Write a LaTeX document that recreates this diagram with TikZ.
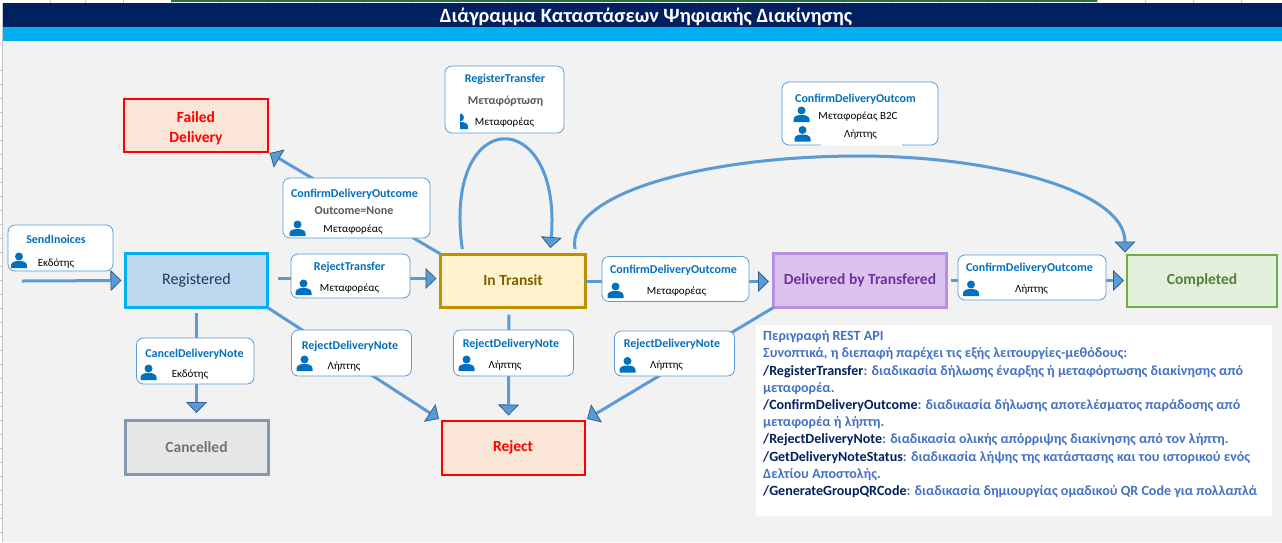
\documentclass[tikz,border=0pt]{standalone}
\usepackage{fontspec}
\setmainfont{Carlito}
\usepackage{xcolor}
\usetikzlibrary{arrows.meta,positioning}
\definecolor{pagegray}{HTML}{F2F2F2}
\definecolor{gridgray}{HTML}{C6C6C6}
\definecolor{sheetgreen}{HTML}{217346}
\definecolor{titlenavy}{HTML}{002060}
\definecolor{titlecyan}{HTML}{00B0F0}
\definecolor{flowblue}{HTML}{5B9BD5}
\definecolor{tipedge}{HTML}{2F5F8A}
\definecolor{callblue}{HTML}{0070C0}
\definecolor{notegray}{HTML}{595959}
\definecolor{infoblue}{HTML}{4472C4}
\definecolor{failfill}{HTML}{FBE5D6}
\definecolor{regfill}{HTML}{BDD7EE}
\definecolor{regtext}{HTML}{1F3864}
\definecolor{transitline}{HTML}{BF9000}
\definecolor{transitfill}{HTML}{FFF2CC}
\definecolor{transittext}{HTML}{7F6000}
\definecolor{delivline}{HTML}{B98FE0}
\definecolor{delivfill}{HTML}{DCC3EE}
\definecolor{delivtext}{HTML}{7030A0}
\definecolor{doneline}{HTML}{70AD47}
\definecolor{donefill}{HTML}{E2EFDA}
\definecolor{donetext}{HTML}{548235}
\definecolor{cancelline}{HTML}{8497B0}
\definecolor{cancelfill}{HTML}{E7E6E6}
\definecolor{canceltext}{HTML}{767171}

\begin{document}
\begin{tikzpicture}[
    x=1pt, y=-1pt,
    state_box/.style={rectangle, outer sep=0pt, inner sep=0pt, align=center, font=\fontsize{15.5}{20}\selectfont\bfseries},
    call_box/.style={rectangle, draw=flowblue, fill=white, rounded corners=7pt, line width=0.8pt, outer sep=0pt, inner sep=0pt},
    call_title/.style={inner sep=0pt, yshift=-1pt, text=callblue, font=\fontsize{12}{14}\selectfont\bfseries},
    call_note/.style={inner sep=0pt, yshift=-1pt, text=notegray, font=\fontsize{12}{14}\selectfont\bfseries},
    call_role/.style={inner sep=0pt, yshift=-2pt, text=black, font=\fontsize{11}{13}\selectfont},
    flow/.style={line width=3pt, draw=flowblue, -{Triangle[length=11pt,width=21pt,line width=0.8pt,color=tipedge,fill=flowblue]}},
    person/.pic={
        \fill[callblue] (0,-3.5) circle (4);
        \fill[callblue] (-8,8) -- (-8,5.5) .. controls (-8,2) and (-4,1) .. (0,1) .. controls (4,1) and (8,2) .. (8,5.5) -- (8,8) -- cycle;
    }
]
\useasboundingbox (0,0) rectangle (1282,542);

% Sheet and title
\fill[pagegray] (0,0) rectangle (1282,542);
\fill[white] (0,0) rectangle (1282,3);
\fill[white] (0,0) rectangle (2,542);
\foreach \gx in {50,85,123,171,219,267,315,363,411,459,507,555,603,651,699,747,795,843,891,939,987,1035,1083,1097,1145,1193,1241}
    \draw[gridgray, line width=0.5pt] (\gx,0) -- (\gx,3);
\foreach \gy in {70,84,98,112,126,140,154,168,182,196,210,224,238,252,266,280,294,308,322,336,350,364,378,392,406,420,434,448,462,476,490,504,518,532}
    \draw[gridgray, line width=0.5pt] (0,\gy) -- (2,\gy);
\draw[gridgray, line width=1pt] (2.5,3) -- (2.5,542);
\fill[sheetgreen] (171,0) rectangle (1097,1.5);
\node[rectangle, fill=titlenavy, anchor=north west, minimum width=1279pt, minimum height=24pt, inner sep=0pt, outer sep=0pt] (title_bar) at (3,3) {};
\node[rectangle, fill=titlecyan, below=0pt of title_bar, minimum width=1279pt, minimum height=14pt, inner sep=0pt, outer sep=0pt] (title_strip) {};
\node[inner sep=0pt, text=white, font=\fontsize{20.3}{24}\selectfont\bfseries] (title_text) at (646,16.5) {Διάγραμμα Καταστάσεων Ψηφιακής Διακίνησης};

% States
\node[state_box, draw=titlecyan, fill=regfill, line width=3pt, text=regtext, minimum width=142pt, minimum height=54pt, font=\fontsize{16}{20}\selectfont] (registered) at (196.5,280.5) {\raisebox{-1pt}{Registered}};
\node[state_box, draw=red, fill=failfill, line width=2pt, text=red, minimum width=144pt, minimum height=53pt, above=101.5pt of registered, xshift=-0.5pt] (failed) {\rule{0pt}{17pt}Failed\\Delivery};
\node[state_box, draw=transitline, fill=transitfill, line width=3pt, text=transittext, minimum width=145pt, minimum height=53pt, right=173pt of registered] (in_transit) {In Transit};
\node[state_box, draw=delivline, fill=delivfill, line width=3pt, text=delivtext, minimum width=173pt, minimum height=54pt, right=188pt of in_transit] (delivered) {Delivered by Transfered};
\node[state_box, draw=doneline, fill=donefill, line width=2pt, text=donetext, minimum width=150pt, minimum height=52pt, right=180.5pt of delivered] (completed) {Completed};
\node[state_box, draw=cancelline, fill=cancelfill, line width=3pt, text=canceltext, minimum width=143pt, minimum height=54pt, below=113pt of registered] (cancelled) {Cancelled};
\node[state_box, draw=red, fill=failfill, line width=2pt, text=red, minimum width=143pt, minimum height=54pt, below=113.5pt of in_transit] (reject) {Reject};

% Connections
\coordinate (entry) at (22,281);
\coordinate (arc_top) at (860,156);
\draw[flow, shorten >=4pt] (entry) -- (registered.west);
\draw[flow, shorten <=10pt, shorten >=4pt] ([yshift=2pt]registered.east) -- ([yshift=2pt]in_transit.west);
\draw[flow, shorten >=4.5pt] ([yshift=-1pt]in_transit.east) -- ([yshift=-1pt]delivered.west);
\draw[flow, shorten <=4pt, shorten >=3pt] (delivered.east) -- (completed.west);
\draw[flow, shorten >=2pt] (in_transit.north west) -- (failed.south east);
\draw[flow, shorten <=5pt, shorten >=7.5pt] (registered.south) -- (cancelled.north);
\draw[flow, shorten >=3pt] (registered.south east) -- (reject.north west);
\draw[flow, shorten <=7.5pt, shorten >=5pt] ([xshift=-4pt]in_transit.south) -- ([xshift=-4.5pt]reject.north);
\draw[flow, shorten >=3pt] (delivered.south west) -- (reject.north east);
\draw[flow, shorten <=5pt, shorten >=6pt] ([xshift=-50pt]in_transit.north) .. controls (442,104) and (562,104) .. ([xshift=37pt]in_transit.north);
\draw[flow, shorten <=5pt, shorten >=2pt] ([xshift=63pt]in_transit.north) .. controls (565,195) and (700,156) .. (arc_top) .. controls (990,156) and (1125,190) .. ([xshift=-77pt]completed.north);

% SendInoices
\node[call_box, minimum width=105pt, minimum height=46pt] (send_call) at (60.5,248) {};
\node[call_title] (send_title) at (56,238) {SendInoices};
\node[call_role] (send_role) at (56,262) {Εκδότης};
\pic at (19,260) {person};

% Failed outcome
\node[call_box, minimum width=147pt, minimum height=60pt] (none_call) at (356.5,208) {};
\node[call_title] (none_title) at (354.5,193) {ConfirmDeliveryOutcome};
\node[call_note] (none_note) at (354,210) {Outcome=None};
\node[call_role] (none_role) at (353,228) {Μεταφορέας};
\pic at (297.5,228) {person};

% RejectTransfer
\node[call_box, minimum width=119pt, minimum height=44pt, right=23.5pt of registered, yshift=4.5pt] (transfer_call) {};
\node[call_title] (transfer_title) at (349.5,266) {RejectTransfer};
\node[call_role] (transfer_role) at (349.5,287) {Μεταφορέας};
\pic at (303.5,287) {person};

% RegisterTransfer
\node[call_box, minimum width=119pt, minimum height=67pt] (register_call) at (504.5,99.5) {};
\node[call_title] (register_title) at (505,78) {RegisterTransfer};
\node[call_note] (register_note) at (505.5,100) {Μεταφόρτωση};
\node[call_role] (register_role) at (504.5,121) {Μεταφορέας};
\begin{scope}
    \clip (460,110) rectangle (470,131);
    \pic at (460,121) {person};
\end{scope}

% Delivered and completed outcomes
\node[call_box, minimum width=147pt, minimum height=45pt, right=16.5pt of in_transit, yshift=1.5pt] (deliv_call) {};
\node[call_title] (deliv_title) at (673.5,269) {ConfirmDeliveryOutcome};
\node[call_role] (deliv_role) at (676.5,290) {Μεταφορέας};
\pic at (615.5,290) {person};

\node[call_box, minimum width=148pt, minimum height=45pt, right=11.5pt of delivered, yshift=3pt] (done_call) {};
\node[call_title] (done_title) at (1029.5,267) {ConfirmDeliveryOutcome};
\node[call_role] (done_role) at (1031.5,288) {Λήπτης};
\pic at (971,288) {person};

\node[call_box, minimum width=156pt, minimum height=63pt] (direct_call) at (860,113.5) {};
\draw[white, line width=1.5pt] ([xshift=39pt]direct_call.south west) -- ([xshift=120pt]direct_call.south west);
\node[call_title] (direct_title) at (855.5,98) {ConfirmDeliveryOutcom};
\node[call_role] (direct_role_a) at (858,114.5) {Μεταφορέας B2C};
\node[call_role] (direct_role_b) at (860.5,133) {Λήπτης};
\pic at (801.5,114) {person};
\pic at (802.5,133.5) {person};

% CancelDeliveryNote
\node[call_box, minimum width=117.5pt, minimum height=46pt] (cancel_call) at (195.25,361) {};
\node[call_title] (cancel_title) at (194.5,353) {CancelDeliveryNote};
\node[call_role] (cancel_role) at (190,373) {Εκδότης};
\pic at (148.5,372) {person};

% RejectDeliveryNote
\node[call_box, minimum width=120pt, minimum height=46pt] (note_one) at (351.5,353) {};
\node[call_title] (note_one_title) at (350,345) {RejectDeliveryNote};
\node[call_role] (note_one_role) at (344,365) {Λήπτης};
\pic at (304.5,363) {person};

\node[call_box, minimum width=120pt, minimum height=46pt] (note_two) at (513.5,353) {};
\node[call_title] (note_two_title) at (511,343) {RejectDeliveryNote};
\node[call_role] (note_two_role) at (505,364) {Λήπτης};
\pic at (466.5,363) {person};

\node[call_box, minimum width=120pt, minimum height=45pt] (note_three) at (674.5,353.5) {};
\node[call_title] (note_three_title) at (672,343) {RejectDeliveryNote};
\node[call_role] (note_three_role) at (666.5,364) {Λήπτης};
\pic at (627.5,364.5) {person};

% REST API notes
\node[rectangle, fill=white, anchor=north west, minimum width=516pt, minimum height=191pt, inner sep=0pt] (info_box) at (756,325) {};
\node[anchor=north west, inner sep=0pt, align=left, text=infoblue, font=\fontsize{14.05}{17.2}\selectfont\bfseries] (info_text) at (763,330.5) {%
Περιγραφή REST API\\
Συνοπτικά, η διεπαφή παρέχει τις εξής λειτουργίες-μεθόδους:\\
\textcolor{titlenavy}{/RegisterTransfer}: διαδικασία δήλωσης έναρξης ή μεταφόρτωσης διακίνησης από\\
μεταφορέα.\\
\textcolor{titlenavy}{/ConfirmDeliveryOutcome}: διαδικασία δήλωσης αποτελέσματος παράδοσης από\\
μεταφορέα ή λήπτη.\\
\textcolor{titlenavy}{/RejectDeliveryNote}: διαδικασία ολικής απόρριψης διακίνησης από τον λήπτη.\\
\textcolor{titlenavy}{/GetDeliveryNoteStatus}: διαδικασία λήψης της κατάστασης και του ιστορικού ενός\\
Δελτίου Αποστολής.\\
\textcolor{titlenavy}{/GenerateGroupQRCode}: διαδικασία δημιουργίας ομαδικού QR Code για πολλαπλά};

\end{tikzpicture}
\end{document}
